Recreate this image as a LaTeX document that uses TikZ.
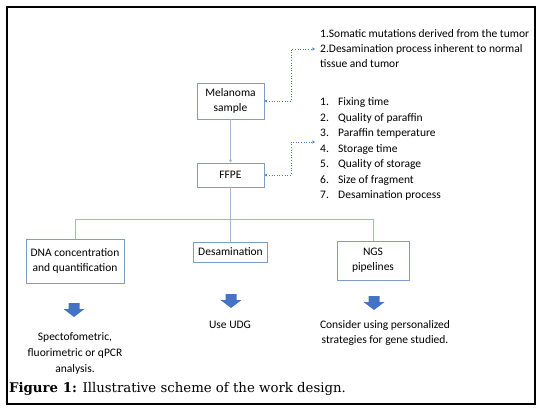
\documentclass[tikz,border=0pt]{standalone}
\usepackage{fontspec}
\setmainfont{DejaVu Serif}
\newfontfamily\carl{Carlito}
\usetikzlibrary{arrows.meta}
\definecolor{boxline}{HTML}{7F9CC2}
\definecolor{conline}{HTML}{A3B7D3}
\definecolor{dotblue}{HTML}{4A7EBB}
\definecolor{arrowblue}{HTML}{4472C4}
\tikzset{
  box/.style={draw=boxline, line width=0.9pt, fill=white, align=center, inner sep=0pt, font=\carl\fontsize{11.5}{15}\selectfont},
  con/.style={draw=conline, line width=0.8pt},
  dotcon/.style={draw=dotblue, line width=0.6pt, dotted, {Stealth[length=3pt,width=3pt]}-{Stealth[length=3pt,width=3pt]}},
  txt/.style={inner sep=0pt, font=\carl\fontsize{11.5}{15}\selectfont},
  barrow/.pic={\fill[arrowblue] (-5.5,0) -- (5.5,0) -- (5.5,6) -- (10.5,6) -- (0,14) -- (-10.5,6) -- (-5.5,6) -- cycle;}
}
\begin{document}
\begin{tikzpicture}[x=1pt,y=-1pt]
\useasboundingbox (0,0) rectangle (545,411);
\draw[line width=2.5pt, black] (7,7) rectangle (535,404);

% main boxes
\node[box, minimum width=67, minimum height=36] (mel) at (230.5,101) {Melanoma\\sample};
\node[box, minimum width=67, minimum height=24] (ffpe) at (230.5,175) {FFPE};
\node[box, minimum width=98, minimum height=44] (dna) at (75,261) {DNA concentration\\and quantification};
\node[box, minimum width=74, minimum height=20] (des) at (230.5,252) {Desamination};
\node[box, minimum width=72, minimum height=39] (ngs) at (373,260.5) {NGS\\pipelines};

% tree connectors
\coordinate (br) at (230.5,219);
\coordinate (bl) at (75,219);
\coordinate (bn) at (373,219);
\draw[con, -{Stealth[length=3pt,width=3.5pt]}] (mel.south) -- (ffpe.north);
\draw[con] (ffpe.south) -- (br);
\draw[con] (bl) -- (bn);
\draw[con] (bl) -- (dna.north);
\draw[con] (br) -- (des.north);
\draw[con] (bn) -- (ngs.north);

% list 1
\node[txt, anchor=base west] (a1) at (320,38) {1.Somatic mutations derived from the tumor};
\node[txt, anchor=base west] (a2) at (320,53) {2.Desamination process inherent to normal};
\node[txt, anchor=base west] (a3) at (320,68) {tissue and tumor};

% list 2
\foreach \n/\t [count=\i] in {1/Fixing time,2/Quality of paraffin,3/Paraffin temperature,4/Storage time,5/Quality of storage,6/Size of fragment,7/Desamination process}{
  \node[txt, anchor=base west] (n\i) at (320,{102+4+(\i-1)*15.5}) {\n.};
  \node[txt, anchor=base west] (t\i) at (338,{102+4+(\i-1)*15.5}) {\t};
}

% dotted connectors
\coordinate (d1a) at (291,101);
\coordinate (d1b) at (291,49);
\coordinate (d1c) at (315,49);
\draw[dotcon] (mel.east) -- (d1a) -- (d1b) -- (d1c);
\coordinate (d2a) at (291,175);
\coordinate (d2b) at (291,142);
\coordinate (d2c) at (315,142);
\draw[dotcon] (ffpe.east) -- (d2a) -- (d2b) -- (d2c);

% block arrows
\pic at (74,303) {barrow};
\pic at (231,294) {barrow};
\pic at (374,296) {barrow};

% bottom texts
\node[txt, align=center, font=\carl\fontsize{11.5}{16}\selectfont] (r1) at (75,353) {Spectofometric,\\fluorimetric or qPCR\\analysis.};
\node[txt, align=center] (r2) at (230,325) {Use UDG};
\node[txt, align=center, font=\carl\fontsize{11.5}{15.5}\selectfont] (r3) at (385,333) {Consider using personalized\\strategies for gene studied.};

% caption
\node[inner sep=0pt, anchor=base west, font=\fontsize{13.3}{15}\selectfont] (cap) at (9,392) {\textbf{Figure 1:} Illustrative scheme of the work design.};
\end{tikzpicture}
\end{document}
